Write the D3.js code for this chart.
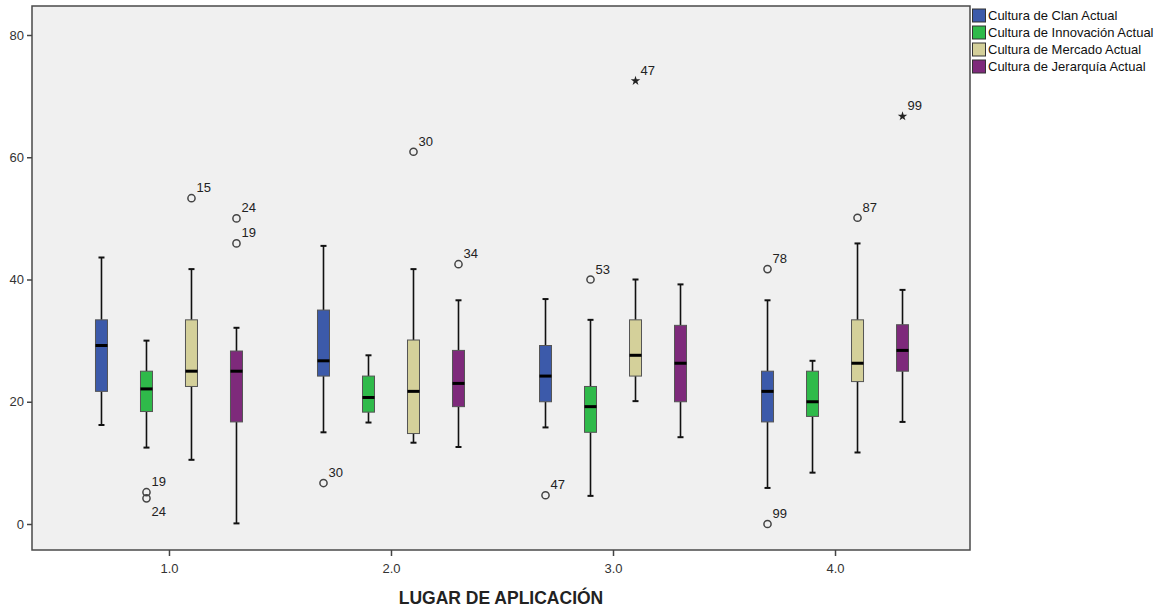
<!DOCTYPE html>
<html><head><meta charset="utf-8">
<script src="https://cdn.jsdelivr.net/npm/d3@7"></script>
<style>body{margin:0;background:#fff;} svg{display:block;font-family:"Liberation Sans",Arial,sans-serif;}</style>
</head><body>
<svg id="c" width="1165" height="609"></svg>
<script>
const categories = [1, 2, 3, 4];
const tickLabels = ["1.0", "2.0", "3.0", "4.0"];
const seriesNames = ["Cultura de Clan Actual", "Cultura de Innovación Actual", "Cultura de Mercado Actual", "Cultura de Jerarquía Actual"];
const seriesColors = ["#3c5aaa", "#2fba4a", "#d4d09a", "#7e2a7b"];
// [whiskerLow, Q1, median, Q3, whiskerHigh] per category
const clanStats = [[16.2, 21.7, 29.2, 33.4, 43.6], [15.0, 24.2, 26.7, 35.0, 45.5], [15.8, 20.0, 24.2, 29.2, 36.8], [5.9, 16.7, 21.7, 25.0, 36.6]];
const innovStats = [[12.5, 18.4, 22.1, 25.0, 30.0], [16.6, 18.3, 20.7, 24.2, 27.6], [4.6, 15.0, 19.2, 22.5, 33.4], [8.4, 17.6, 20.0, 25.0, 26.7]];
const mercStats = [[10.5, 22.5, 25.0, 33.4, 41.7], [13.3, 14.8, 21.7, 30.1, 41.7], [20.1, 24.2, 27.6, 33.4, 40.0], [11.7, 23.3, 26.3, 33.4, 45.9]];
const jerStats = [[0.1, 16.7, 25.0, 28.3, 32.1], [12.6, 19.2, 23.0, 28.4, 36.6], [14.2, 20.0, 26.3, 32.5, 39.2], [16.7, 25.0, 28.4, 32.6, 38.3]];
const allStats = [clanStats, innovStats, mercStats, jerStats];
// outliers: [seriesIndex, category, value, caseLabel, extreme]
const outliers = [
  [1, 1, 5.2, "19", false], [1, 1, 4.2, "24", false],
  [2, 1, 53.3, "15", false],
  [3, 1, 50.0, "24", false], [3, 1, 45.9, "19", false],
  [0, 2, 6.7, "30", false], [2, 2, 60.9, "30", false], [3, 2, 42.5, "34", false],
  [0, 3, 4.7, "47", false], [1, 3, 40.0, "53", false], [2, 3, 72.5, "47", true],
  [0, 4, 41.7, "78", false], [0, 4, 0.0, "99", false], [2, 4, 50.1, "87", false], [3, 4, 66.7, "99", true]
];
const yTicks = [0, 20, 40, 60, 80];

const svg = d3.select("#c");
const L = 32, R = 970, T = 6, B = 550;
const x = d3.scaleLinear().domain([0.383, 4.608]).range([L, R]);
const y = d3.scaleLinear().domain([0, 80]).range([524, 35]);
const off = d3.scalePoint().domain([0, 1, 2, 3]).range([-67.5, 67.5]);
const bw = 12;
const FONT = "Liberation Sans, Arial, sans-serif";

svg.append("rect").attr("x", L).attr("y", T).attr("width", R - L).attr("height", B - T)
  .attr("fill", "#f0f0f0").attr("stroke", "#4a4a4a").attr("stroke-width", 1.5);

// Y axis
const yAxis = d3.axisLeft(y).tickValues(yTicks).tickSize(5).tickPadding(3).tickFormat(d3.format("d"));
const ya = svg.append("g").attr("transform", `translate(${L},0)`).call(yAxis);
ya.select(".domain").remove();
ya.selectAll("line").attr("stroke", "#444").attr("stroke-width", 1.5);
ya.selectAll("text").attr("fill", "#333").style("font-size", "13px").style("font-family", FONT);

// X axis
const xAxis = d3.axisBottom(x).tickValues(categories).tickSize(6).tickPadding(8).tickFormat((d, i) => tickLabels[i]);
const xa = svg.append("g").attr("transform", `translate(0,${B})`).call(xAxis);
xa.select(".domain").remove();
xa.selectAll("line").attr("stroke", "#444").attr("stroke-width", 1.5);
xa.selectAll("text").attr("fill", "#333").style("font-size", "13px").style("font-family", FONT);

svg.append("text").attr("x", (L + R) / 2).attr("y", 604).attr("text-anchor", "middle")
  .style("font-size", "17.5px").style("font-weight", "bold").attr("fill", "#222").text("LUGAR DE APLICACIÓN");

// Boxes
allStats.forEach((stats, si) => {
  stats.forEach((s, ci) => {
    const cx = x(categories[ci]) + off(si);
    const g = svg.append("g");
    g.append("line").attr("x1", cx).attr("x2", cx).attr("y1", y(s[4])).attr("y2", y(s[3])).attr("stroke", "#111").attr("stroke-width", 1.6);
    g.append("line").attr("x1", cx).attr("x2", cx).attr("y1", y(s[1])).attr("y2", y(s[0])).attr("stroke", "#111").attr("stroke-width", 1.6);
    [s[0], s[4]].forEach(v => g.append("line").attr("x1", cx - 3).attr("x2", cx + 3).attr("y1", y(v)).attr("y2", y(v)).attr("stroke", "#111").attr("stroke-width", 2));
    g.append("rect").attr("x", cx - bw / 2).attr("y", y(s[3])).attr("width", bw).attr("height", y(s[1]) - y(s[3]))
      .attr("fill", seriesColors[si]).attr("stroke", "#555").attr("stroke-width", 1);
    g.append("line").attr("x1", cx - bw / 2).attr("x2", cx + bw / 2).attr("y1", y(s[2])).attr("y2", y(s[2])).attr("stroke", "#000").attr("stroke-width", 3);
  });
});

// Outliers
outliers.forEach((o, i) => {
  const [si, cat, v, lab, ext] = o;
  const cx = x(cat) + off(si), cy = y(v);
  if (ext) {
    svg.append("path").attr("d", d3.symbol(d3.symbolStar, 28)()).attr("transform", `translate(${cx},${cy})`).attr("fill", "#222");
  } else {
    svg.append("circle").attr("cx", cx).attr("cy", cy).attr("r", 3.6).attr("fill", "none").attr("stroke", "#444").attr("stroke-width", 1.5);
  }
  const below = outliers.some((p, j) => j !== i && p[0] === si && p[1] === cat && p[2] > v && p[2] - v < 2);
  svg.append("text").attr("x", cx + 5).attr("y", below ? cy + 18 : cy - 6)
    .style("font-size", "13px").attr("fill", "#222").text(lab);
});

// Legend
const lg = svg.append("g");
seriesNames.forEach((n, i) => {
  const yy = 9 + i * 17;
  lg.append("rect").attr("x", 972.5).attr("y", yy).attr("width", 13).attr("height", 13)
    .attr("fill", seriesColors[i]).attr("stroke", "#333").attr("stroke-width", 1);
  lg.append("text").attr("x", 988).attr("y", yy + 11).style("font-size", "13px").attr("fill", "#111").text(n);
});
</script>
</body></html>
